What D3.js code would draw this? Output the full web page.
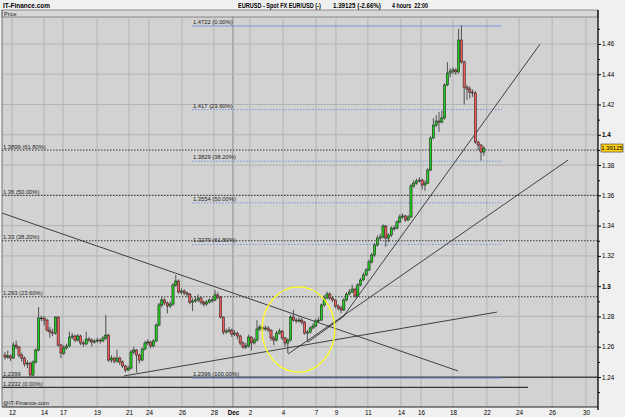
<!DOCTYPE html>
<html>
<head>
<meta charset="utf-8">
<script src="https://cdnjs.cloudflare.com/ajax/libs/d3/7.8.5/d3.min.js"></script>
<style>
body { margin: 0; background: #f0f0f0; }
svg { display: block; font-family: "Liberation Sans", Arial, sans-serif; }
</style>
</head>
<body>
<svg id="chart" width="625" height="417"></svg>
<script>
// 4-hour EUR/USD bars, open = previous close
const firstOpen = 1.2545;
const closes = [
  1.2532, 1.2539, 1.2525, 1.2611, 1.2598, 1.2545, 1.2525, 1.2486, 1.2492, 1.2413,
  1.2499, 1.2578, 1.2790, 1.2790, 1.2776, 1.2710, 1.2697, 1.2690, 1.2796, 1.2611,
  1.2558, 1.2592, 1.2605, 1.2664, 1.2671, 1.2644, 1.2671, 1.2625, 1.2618, 1.2651,
  1.2644, 1.2631, 1.2638, 1.2644, 1.2638, 1.2658, 1.2677, 1.2512, 1.2525, 1.2505,
  1.2525, 1.2499, 1.2473, 1.2446, 1.2459, 1.2565, 1.2578, 1.2545, 1.2512, 1.2585,
  1.2625, 1.2631, 1.2605, 1.2638, 1.2743, 1.2876, 1.2909, 1.2889, 1.2869, 1.2882,
  1.3008, 1.3034, 1.2961, 1.2968, 1.2955, 1.2948, 1.2895, 1.2902, 1.2909, 1.2922,
  1.2895, 1.2882, 1.2895, 1.2909, 1.2909, 1.2942, 1.2928, 1.2796, 1.2697, 1.2704,
  1.2710, 1.2684, 1.2690, 1.2671, 1.2625, 1.2598, 1.2605, 1.2664, 1.2625, 1.2644,
  1.2717, 1.2730, 1.2717, 1.2724, 1.2710, 1.2658, 1.2644, 1.2690, 1.2704, 1.2658,
  1.2625, 1.2644, 1.2796, 1.2776, 1.2770, 1.2776, 1.2763, 1.2690, 1.2697, 1.2724,
  1.2737, 1.2770, 1.2776, 1.2876, 1.2922, 1.2948, 1.2922, 1.2909, 1.2869, 1.2856,
  1.2843, 1.2909, 1.2948, 1.2962, 1.2981, 1.2935, 1.3008, 1.3041, 1.3074, 1.3107,
  1.3160, 1.3206, 1.3272, 1.3318, 1.3325, 1.3397, 1.3318, 1.3338, 1.3384, 1.3384,
  1.3424, 1.3457, 1.3464, 1.3437, 1.3457, 1.3662, 1.3681, 1.3695, 1.3701, 1.3668,
  1.3681, 1.3767, 1.3979, 1.4064, 1.4091, 1.4084, 1.4111, 1.4329, 1.4408, 1.4421,
  1.4428, 1.4415, 1.4626, 1.4481, 1.4315, 1.4302, 1.4282, 1.4276, 1.3952, 1.3932,
  1.3886, 1.3912
];
const highs = [
  1.2565, 1.2575, 1.2550, 1.2630, 1.2640, 1.2605, 1.2560, 1.2535, 1.2510, 1.2500,
  1.2510, 1.2590, 1.2862, 1.2805, 1.2800, 1.2785, 1.2730, 1.2720, 1.2800, 1.2800,
  1.2620, 1.2610, 1.2620, 1.2700, 1.2690, 1.2680, 1.2685, 1.2680, 1.2640, 1.2700,
  1.2665, 1.2655, 1.2650, 1.2660, 1.2655, 1.2670, 1.2810, 1.2685, 1.2545, 1.2535,
  1.2580, 1.2535, 1.2510, 1.2480, 1.2475, 1.2580, 1.2600, 1.2585, 1.2555, 1.2595,
  1.2640, 1.2650, 1.2640, 1.2650, 1.2755, 1.2890, 1.2930, 1.2920, 1.2900, 1.2900,
  1.3020, 1.3074, 1.3045, 1.2985, 1.2980, 1.2965, 1.2955, 1.2920, 1.2935, 1.2945,
  1.2930, 1.2905, 1.2910, 1.2920, 1.2925, 1.2975, 1.2960, 1.2935, 1.2800, 1.2720,
  1.2730, 1.2720, 1.2710, 1.2700, 1.2680, 1.2635, 1.2625, 1.2680, 1.2670, 1.2660,
  1.2776, 1.2745, 1.2740, 1.2740, 1.2735, 1.2715, 1.2670, 1.2705, 1.2720, 1.2710,
  1.2665, 1.2655, 1.2810, 1.2843, 1.2790, 1.2795, 1.2790, 1.2770, 1.2710, 1.2735,
  1.2755, 1.2785, 1.2795, 1.2885, 1.2940, 1.2965, 1.2960, 1.2935, 1.2915, 1.2880,
  1.2870, 1.2920, 1.2960, 1.2980, 1.3010, 1.2990, 1.3020, 1.3055, 1.3090, 1.3120,
  1.3175, 1.3220, 1.3285, 1.3335, 1.3345, 1.3410, 1.3405, 1.3350, 1.3395, 1.3400,
  1.3435, 1.3475, 1.3480, 1.3470, 1.3470, 1.3675, 1.3700, 1.3710, 1.3720, 1.3710,
  1.3700, 1.3780, 1.3990, 1.4110, 1.4130, 1.4150, 1.4160, 1.4340, 1.4480, 1.4440,
  1.4445, 1.4440, 1.4700, 1.4722, 1.4490, 1.4330, 1.4320, 1.4300, 1.4290, 1.3960,
  1.3940, 1.3925
];
const lows = [
  1.2515, 1.2520, 1.2505, 1.2520, 1.2585, 1.2530, 1.2500, 1.2470, 1.2460, 1.2399,
  1.2405, 1.2490, 1.2570, 1.2770, 1.2740, 1.2700, 1.2660, 1.2670, 1.2680, 1.2600,
  1.2525, 1.2545, 1.2580, 1.2595, 1.2650, 1.2630, 1.2635, 1.2610, 1.2600, 1.2610,
  1.2630, 1.2600, 1.2620, 1.2625, 1.2620, 1.2630, 1.2645, 1.2500, 1.2495, 1.2490,
  1.2495, 1.2480, 1.2460, 1.2430, 1.2440, 1.2450, 1.2550, 1.2430, 1.2490, 1.2505,
  1.2575, 1.2610, 1.2590, 1.2595, 1.2630, 1.2735, 1.2860, 1.2875, 1.2820, 1.2855,
  1.2870, 1.2995, 1.2950, 1.2945, 1.2940, 1.2930, 1.2880, 1.2835, 1.2890, 1.2895,
  1.2880, 1.2865, 1.2870, 1.2885, 1.2890, 1.2900, 1.2915, 1.2785, 1.2680, 1.2685,
  1.2690, 1.2665, 1.2670, 1.2650, 1.2610, 1.2585, 1.2585, 1.2595, 1.2575, 1.2615,
  1.2635, 1.2705, 1.2700, 1.2705, 1.2695, 1.2640, 1.2610, 1.2635, 1.2680, 1.2645,
  1.2600, 1.2558, 1.2635, 1.2765, 1.2755, 1.2760, 1.2745, 1.2680, 1.2630, 1.2685,
  1.2715, 1.2730, 1.2760, 1.2770, 1.2865, 1.2915, 1.2910, 1.2895, 1.2855, 1.2840,
  1.2820, 1.2835, 1.2900, 1.2940, 1.2955, 1.2925, 1.2930, 1.3000, 1.3035, 1.3065,
  1.3100, 1.3150, 1.3195, 1.3260, 1.3300, 1.3315, 1.3260, 1.3290, 1.3325, 1.3365,
  1.3375, 1.3415, 1.3445, 1.3425, 1.3430, 1.3450, 1.3650, 1.3670, 1.3685, 1.3640,
  1.3630, 1.3675, 1.3760, 1.3970, 1.4050, 1.4020, 1.4075, 1.4100, 1.4320, 1.4380,
  1.4400, 1.4395, 1.4405, 1.4470, 1.4200, 1.4230, 1.4240, 1.4250, 1.3940, 1.3900,
  1.3830, 1.3860
];

// date axis (positions in bar units)
const dayLabels = ['12', '14', '17', '19', '21', '24', '26', '28', 'Dec', '2', '4',
  '7', '9', '11', '14', '16', '18', '22', '24', '26', '30'];
const dayBars = [2.5, 13.9, 20.7, 32.9, 44.3, 51.4, 63.2, 74.6, 81.4, 87.5, 99.3,
  111.1, 118.2, 129.6, 141.4, 148.6, 160, 172.1, 183.6, 195.4, 207.5];

// price axis
const priceTicks = [1.24, 1.26, 1.28, 1.30, 1.32, 1.34, 1.36, 1.38, 1.40, 1.42, 1.44, 1.46];
const minorTicks = [1.23, 1.25, 1.27, 1.29, 1.31, 1.33, 1.35, 1.37, 1.39, 1.41, 1.43, 1.45, 1.47];
const lastPrice = '1.39125';

// fibonacci retracement 1 (blue, short)
const blueLevels = [1.4722, 1.417, 1.3829, 1.3554, 1.3279, 1.2396];
const blueLabels = ['1.4722 (0.00%)', '1.417 (23.60%)', '1.3829 (38.20%)',
  '1.3554 (50.00%)', '1.3279 (61.80%)', '1.2396 (100.00%)'];
const blueSpan = [66.8, 177.5];

// fibonacci retracement 2 (black, full width)
const blackLevels = [1.3899, 1.36, 1.33, 1.293];
const blackLabels = ['1.3899 (61.80%)', '1.36 (50.00%)', '1.33 (38.20%)', '1.293 (23.60%)'];

// support lines
const supportLevels = [1.2399, 1.2332];
const supportLabels = ['1.2399', '1.2332 (0.00%)'];
const supportEnds = [211.79, 186.8];

// trend lines [bar, price]
const trendLines = [
  [[-1.07, 1.3483], [161.8, 1.2440]],
  [[42.5, 1.2407], [175.7, 1.2829]],
  [[101.1, 1.2552], [201.1, 1.3833]],
  [[120.7, 1.2796], [191.1, 1.4599]],
  [[108.2, 1.2631], [120.7, 1.2796]]
];

// highlighted ellipse: centre [bar, price], radii [bars, price]
const circleCenter = [104.8, 1.2714];
const circleRadius = [13.0, 0.0281];

const svg = d3.select('#chart');
const plotLeft = 2, plotRight = 598, plotTop = 17, plotBottom = 407;

const x = d3.scaleLinear().domain([-1.07, 211.79]).range([plotLeft, plotRight]);
const y = d3.scaleLinear().domain([1.2202, 1.4778]).range([plotBottom, plotTop]);

// header texts, squeezed horizontally to the widths in the original
const headerParts = [
  { x: 3, w: 47, t: 'IT-Finance.com' },
  { x: 238, w: 83, t: 'EURUSD - Spot FX EUR/USD (-)' },
  { x: 333, w: 48, t: '1.39125 (-2.66%)' },
  { x: 392, w: 36, t: '4 hours  22:00' }
];
svg.selectAll('.hdr').data(headerParts).join('text')
  .attr('class', 'hdr')
  .attr('xml:space', 'preserve')
  .style('font-size', '7.5px').style('font-weight', 'bold')
  .text(d => d.t)
  .each(function (d) {
    const len = this.getComputedTextLength();
    d3.select(this).attr('transform', `translate(${d.x},8) scale(${d.w / len},1)`);
  });

// plot background
svg.append('rect').attr('x', plotLeft).attr('y', 10).attr('width', plotRight - plotLeft).attr('height', plotBottom - 10)
  .attr('fill', '#d2d2d2');
svg.append('rect').attr('x', plotLeft).attr('y', 10).attr('width', plotRight - plotLeft).attr('height', 7)
  .attr('fill', '#d8d8d8').attr('stroke', '#555').attr('stroke-width', 0.6);
svg.append('text').attr('x', 4).attr('y', 15.5).style('font-size', '5.5px').attr('fill', '#222').text('Price');

svg.append('defs').append('clipPath').attr('id', 'plot')
  .append('rect').attr('x', plotLeft).attr('y', plotTop).attr('width', plotRight - plotLeft).attr('height', plotBottom - plotTop);

const plot = svg.append('g').attr('clip-path', 'url(#plot)');

// grid
plot.selectAll('.vgrid').data(dayBars).join('line')
  .attr('x1', d => x(d)).attr('x2', d => x(d)).attr('y1', plotTop).attr('y2', plotBottom)
  .attr('stroke', (d, i) => dayLabels[i] === 'Dec' ? '#8c8c8c' : '#b4b4b4').attr('stroke-width', 1);
plot.selectAll('.hgrid').data(priceTicks).join('line')
  .attr('x1', plotLeft).attr('x2', plotRight).attr('y1', d => y(d)).attr('y2', d => y(d))
  .attr('stroke', '#b4b4b4').attr('stroke-width', 1);

// fib lines, black
plot.selectAll('.fibk').data(blackLevels).join('line')
  .attr('x1', plotLeft).attr('x2', plotRight).attr('y1', d => y(d)).attr('y2', d => y(d))
  .attr('stroke', '#222').attr('stroke-width', 0.9).attr('stroke-dasharray', '1.5,1.5');
plot.selectAll('.fibkt').data(blackLevels).join('text')
  .attr('x', 3).attr('y', d => y(d) - 1.5).style('font-size', '5.8px').attr('fill', '#222')
  .text((d, i) => blackLabels[i]);

// support lines
plot.selectAll('.sup').data(supportLevels).join('line')
  .attr('x1', plotLeft).attr('x2', (d, i) => x(supportEnds[i])).attr('y1', d => y(d)).attr('y2', d => y(d))
  .attr('stroke', '#111').attr('stroke-width', 1);
plot.selectAll('.supt').data(supportLevels).join('text')
  .attr('x', 3).attr('y', d => y(d) - 1.5).style('font-size', '5.8px').attr('fill', '#222')
  .text((d, i) => supportLabels[i]);

// fib lines, blue
plot.selectAll('.fibb').data(blueLevels).join('line')
  .attr('x1', x(blueSpan[0])).attr('x2', x(blueSpan[1])).attr('y1', d => y(d) + 0.5).attr('y2', d => y(d) + 0.5)
  .attr('stroke', '#6f8fe0').attr('stroke-width', 0.9)
  .attr('stroke-dasharray', (d, i) => (i === 0 || i === blueLevels.length - 1) ? null : '1.5,1.5');
plot.selectAll('.fibbt').data(blueLevels).join('text')
  .attr('x', x(blueSpan[0]) + 1).attr('y', d => y(d) - 1.5).style('font-size', '5.8px').attr('fill', '#222')
  .text((d, i) => blueLabels[i]);

// trend lines
plot.selectAll('.trend').data(trendLines).join('line')
  .attr('x1', d => x(d[0][0])).attr('y1', d => y(d[0][1]))
  .attr('x2', d => x(d[1][0])).attr('y2', d => y(d[1][1]))
  .attr('stroke', '#1a1a1a').attr('stroke-width', 0.8);

// candles
const bars = closes.map((c, i) => ({
  i, o: i === 0 ? firstOpen : closes[i - 1], c, h: highs[i], l: lows[i]
}));
const candle = plot.append('g').selectAll('g').data(bars).join('g');
candle.append('line')
  .attr('x1', d => x(d.i)).attr('x2', d => x(d.i))
  .attr('y1', d => y(d.h)).attr('y2', d => y(d.l))
  .attr('stroke', '#505050').attr('stroke-width', 1);
candle.append('rect')
  .attr('x', d => x(d.i) - 1.1).attr('width', 2.2)
  .attr('y', d => y(Math.max(d.o, d.c)))
  .attr('height', d => Math.max(0.8, Math.abs(y(d.o) - y(d.c))))
  .attr('fill', d => d.c >= d.o ? '#22cc22' : '#ee5c5c')
  .attr('stroke', '#111').attr('stroke-width', 0.5);

// yellow ellipse
plot.append('ellipse')
  .attr('cx', x(circleCenter[0])).attr('cy', y(circleCenter[1]))
  .attr('rx', x(circleCenter[0] + circleRadius[0]) - x(circleCenter[0]))
  .attr('ry', y(circleCenter[1] - circleRadius[1]) - y(circleCenter[1]))
  .attr('fill', 'none').attr('stroke', '#ffff1a').attr('stroke-width', 1.3);

plot.append('text').attr('x', 3).attr('y', 405).style('font-size', '5.8px').attr('fill', '#222')
  .text('@IT-Finance.com');

// frame
svg.append('line').attr('x1', plotLeft).attr('x2', plotLeft).attr('y1', 10).attr('y2', plotBottom)
  .attr('stroke', '#555').attr('stroke-width', 0.8);
svg.append('line').attr('x1', plotLeft).attr('x2', plotRight).attr('y1', plotBottom).attr('y2', plotBottom)
  .attr('stroke', '#222').attr('stroke-width', 1);

// right price axis
const yAxis = svg.append('g').attr('transform', `translate(${plotRight},0)`)
  .call(d3.axisRight(y).tickValues(priceTicks).tickSize(3).tickPadding(1)
    .tickFormat(d => String(+d.toFixed(2))));
yAxis.select('.domain').attr('d', `M0,10V${plotBottom + 3}`).attr('stroke', '#000').attr('stroke-width', 1.3);
yAxis.selectAll('text').style('font-size', '6.3px').style('font-family', '"Liberation Sans", Arial, sans-serif')
  .style('font-weight', d => (Math.abs(d - 1.4) < 1e-6 || Math.abs(d - 1.3) < 1e-6) ? 'bold' : 'normal');
svg.append('g').attr('transform', `translate(${plotRight},0)`)
  .call(d3.axisRight(y).tickValues(minorTicks.filter(d => y(d) > 10)).tickSize(2).tickFormat(''))
  .select('.domain').remove();

// last price marker
const lp = svg.append('g').attr('transform', `translate(601,${y(+lastPrice)})`);
lp.append('rect').attr('x', 0).attr('y', -4).attr('width', 22).attr('height', 8)
  .attr('fill', '#ffd21a').attr('stroke', '#333').attr('stroke-width', 0.6);
lp.append('text').attr('x', 11).attr('y', 2.2).attr('text-anchor', 'middle')
  .style('font-size', '6px').text(lastPrice);

// bottom date axis
const xAxis = svg.append('g').attr('transform', `translate(0,${plotBottom})`)
  .call(d3.axisBottom(x).tickValues(dayBars).tickSize(0).tickPadding(4)
    .tickFormat((d, i) => dayLabels[i]));
xAxis.select('.domain').remove();
xAxis.selectAll('text').style('font-size', '6.3px').style('font-family', '"Liberation Sans", Arial, sans-serif')
  .style('font-weight', (d, i) => dayLabels[i] === 'Dec' ? 'bold' : 'normal');
</script>
</body>
</html>
